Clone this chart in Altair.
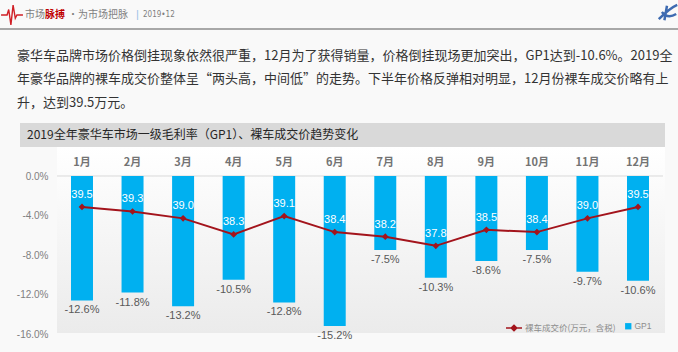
import altair as alt
import pandas as pd

# ---------------- data ----------------
months = ["1月", "2月", "3月", "4月", "5月", "6月", "7月", "8月", "9月", "10月", "11月", "12月"]
gp1 = [-12.6, -11.8, -13.2, -10.5, -12.8, -15.2, -7.5, -10.3, -8.6, -7.5, -9.7, -10.6]
price = [39.5, 39.3, 39.0, 38.3, 39.1, 38.4, 38.2, 37.8, 38.5, 38.4, 39.0, 39.5]
y_ticks = [0, -4, -8, -12, -16]
series_gp = "GP1"
series_price = "裸车成交价(万元，含税)"

chart_title = "2019全年豪华车市场一级毛利率（GP1）、裸车成交价趋势变化"
paragraph = [
    "豪华车品牌市场价格倒挂现象依然很严重，12月为了获得销量，价格倒挂现场更加突出，GP1达到-10.6%。2019全",
    "年豪华品牌的裸车成交价整体呈“两头高，中间低”的走势。下半年价格反弹相对明显，12月份裸车成交价略有上",
    "升，达到39.5万元。",
]
header_a = "市场"
header_b = "脉搏"
header_c = "•"
header_d = "为市场把脉"
header_e = "|"
header_f = "2019•12"

# ---------------- styles ----------------
CJK = "Noto Sans CJK SC"
NUM = "Liberation Sans"
BLUE = "#00b0f0"
RED = "#a3141c"
W, H = 606, 158
PL, PT, PR, PB = 57, 176, 15, 18

df = pd.DataFrame({"month": months, "gp1": gp1, "price": price,
                   "s1": series_gp, "s2": series_price})
base = alt.Chart(df)
one = alt.Chart(pd.DataFrame({"k": [0]}))

x_enc = alt.X("month:N", sort=months, title=None,
              scale=alt.Scale(paddingInner=0.565, paddingOuter=0.277), axis=None)

gp_scale = alt.Scale(domain=[-16, 0], nice=False, zero=False)
pr_scale = alt.Scale(domain=[33.95, 40.85], nice=False, zero=False)


def txt(s, x, y, size, color, weight="normal", font=CJK, align="left"):
    return one.mark_text(text=s, align=align, baseline="middle", fontSize=size,
                         color=color, fontWeight=weight, font=font).encode(
        x=alt.value(x), y=alt.value(y))


# background of chart panel (gradient)
panel = one.mark_rect(fill=alt.LinearGradient(
    gradient="linear", x1=0, x2=0, y1=0, y2=1,
    stops=[alt.GradientStop(color="#ffffff", offset=0),
           alt.GradientStop(color="#ebebeb", offset=1)])).encode(
    x=alt.value(0), x2=alt.value(608), y=alt.value(-29), y2=alt.value(157))

title_bar = one.mark_rect(color="#d9d9d9").encode(
    x=alt.value(-37), x2=alt.value(608), y=alt.value(-53), y2=alt.value(-29))
title_txt = txt(chart_title, -30, -41, 12, "#262626")

zero_rule = one.mark_rule(color="#d9d9d9", strokeWidth=1).encode(
    y=alt.YDatum(0, scale=gp_scale, axis=None), x=alt.value(0), x2=alt.value(W))

bars = base.mark_bar(color=BLUE).encode(
    x=x_enc,
    y=alt.Y("gp1:Q", scale=gp_scale, title=None,
            axis=alt.Axis(values=y_ticks,
                          labelExpr="replace(format(datum.value,'.1f'),'\u2212','-')+'%'",
                          ticks=False, domain=False, grid=False, labelPadding=9,
                          labelFontSize=10, labelColor="#808080", labelFont=NUM)),
    color=alt.Color("s1:N", scale=alt.Scale(domain=[series_gp], range=[BLUE]),
                    legend=alt.Legend(orient="none", legendX=567, legendY=146, title=None,
                                      symbolType="square", symbolSize=40, padding=0,
                                      labelFontSize=8.5, labelColor="#8c8c8c",
                                      labelFont=NUM, labelOffset=2)),
)

month_labels = base.mark_text(baseline="middle", fontSize=11, fontWeight="bold",
                              color="#737373", font=CJK).encode(
    x=x_enc, y=alt.value(-13), text="month:N")

bar_labels = base.mark_text(baseline="middle", dy=10, fontSize=11, color="#595959",
                            font=NUM).transform_calculate(
    lab="replace(format(datum.gp1,'.1f'),'\u2212','-') + '%'").encode(
    x=x_enc, y=alt.Y("gp1:Q", scale=gp_scale, axis=None), text="lab:N")

line = base.mark_line(strokeWidth=2, point=alt.OverlayMarkDef(
    shape="diamond", size=45, filled=True)).encode(
    x=x_enc,
    y=alt.Y("price:Q", scale=pr_scale, axis=None),
    color=alt.Color("s2:N", scale=alt.Scale(domain=[series_price], range=[RED]),
                    legend=alt.Legend(orient="none", legendX=448, legendY=143, title=None,
                                      symbolType="M-1,0L1,0M-0.35,0L0,-0.35L0.35,0L0,0.35Z",
                                      symbolSize=256, symbolStrokeWidth=1.5,
                                      symbolFillColor=RED, symbolStrokeColor=RED, padding=0,
                                      labelFontSize=8.5, labelColor="#8c8c8c",
                                      labelFont=CJK, labelOffset=2)),
)

line_labels = base.mark_text(baseline="middle", dy=-12, fontSize=11, color="white",
                             font=NUM).encode(
    x=x_enc, y=alt.Y("price:Q", scale=pr_scale, axis=None),
    text=alt.Text("price:Q", format=".1f"))

# header & paragraph
header_rule = one.mark_rule(color="#8c8c8c", strokeWidth=1.5).encode(
    x=alt.value(-PL), x2=alt.value(678 - PL), y=alt.value(29 - PT))
ecg = one.mark_point(shape="M-1,0L-0.45,0L-0.3,-0.5L-0.1,0.9L0.1,-0.9L0.3,0.3L0.45,0L1,0",
                     size=480, filled=False, color="#d01f26", strokeWidth=1.4, opacity=1).encode(
    x=alt.value(12 - PL), y=alt.value(15 - PT))
logo = one.mark_point(shape="M-0.9,0.6C-0.4,0.1 0.2,-0.5 0.9,-0.8M-0.6,-0.1C-0.2,0.4 0.3,0.4 0.8,0.1M-0.1,-0.7L-0.35,0.7",
                      size=420, filled=False, color="#2a5caa", strokeWidth=2.5, opacity=0.9).encode(
    x=alt.value(668 - PL), y=alt.value(13 - PT))
hdr = [
    txt(header_a, 25 - PL, 15 - PT, 10, "#7f7f7f"),
    txt(header_b, 45 - PL, 15 - PT, 10, "#c00000", weight="bold"),
    txt(header_c, 68 - PL, 15 - PT, 10, "#7f7f7f"),
    txt(header_d, 78 - PL, 15 - PT, 10, "#7f7f7f"),
    txt(header_e, 136 - PL, 15 - PT, 11, "#9dc3e6", font=NUM),
    txt(header_f, 143 - PL, 15 - PT, 8, "#7f7f7f", font="Liberation Sans Narrow, DejaVu Sans Condensed"),
]
para = [txt(s, 17 - PL, y - PT, 13, "#333333") for s, y in zip(paragraph, [56, 79, 103])]

chart = alt.layer(
    panel, title_bar, title_txt, zero_rule, bars, month_labels, bar_labels, line, line_labels,
    header_rule, ecg, logo, *hdr, *para
).resolve_scale(y="independent", color="independent").resolve_legend(
    color="independent"
).properties(
    width=W, height=H,
    autosize=alt.AutoSizeParams(type="none"),
    padding={"left": PL, "top": PT, "right": PR, "bottom": PB},
    background="#f9f9f9",
).configure_view(stroke=None, fill=None)

chart.save("out.html", embed_options={"renderer": "svg", "actions": False})
